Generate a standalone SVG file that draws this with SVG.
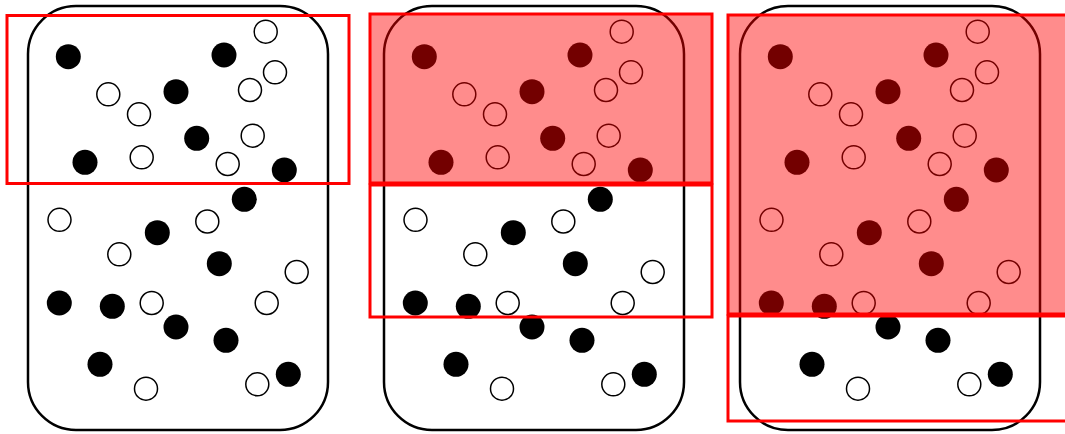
<svg xmlns="http://www.w3.org/2000/svg" xmlns:xlink="http://www.w3.org/1999/xlink" width="1065" height="434" viewBox="0 0 1065 434">
<style>
.box{fill:#fff;stroke:#000;stroke-width:2.5}
.f{fill:#000}
.o{fill:#fff;stroke:#000;stroke-width:1.5}
.sel{fill:none;stroke:#ff0000;stroke-width:3}
.self{fill:#ff0000;fill-opacity:0.45;stroke:#ff0000;stroke-width:3}
</style>
<defs>
<g id="dots">
<circle class="f" cx="68.3" cy="56.7" r="12.5"/>
<circle class="f" cx="224" cy="55" r="12.5"/>
<circle class="f" cx="176" cy="91.7" r="12.5"/>
<circle class="f" cx="196.7" cy="138.3" r="12.5"/>
<circle class="f" cx="85" cy="162.3" r="12.5"/>
<circle class="f" cx="284.3" cy="170" r="12.5"/>
<circle class="f" cx="244.3" cy="199.3" r="12.5"/>
<circle class="f" cx="157.3" cy="232.7" r="12.5"/>
<circle class="f" cx="219.3" cy="263.7" r="12.5"/>
<circle class="f" cx="59.3" cy="303" r="12.5"/>
<circle class="f" cx="112.3" cy="306.3" r="12.5"/>
<circle class="f" cx="176" cy="327" r="12.5"/>
<circle class="f" cx="226" cy="340.3" r="12.5"/>
<circle class="f" cx="100" cy="364.3" r="12.5"/>
<circle class="f" cx="288.3" cy="374.3" r="12.5"/>
<circle class="o" cx="265.7" cy="31.7" r="11.5"/>
<circle class="o" cx="275" cy="72.3" r="11.5"/>
<circle class="o" cx="250" cy="90" r="11.5"/>
<circle class="o" cx="108.3" cy="94.3" r="11.5"/>
<circle class="o" cx="139" cy="114.3" r="11.5"/>
<circle class="o" cx="252.7" cy="135.7" r="11.5"/>
<circle class="o" cx="141.7" cy="157.3" r="11.5"/>
<circle class="o" cx="227.7" cy="164" r="11.5"/>
<circle class="o" cx="59.5" cy="219.8" r="11.5"/>
<circle class="o" cx="207.3" cy="221.5" r="11.5"/>
<circle class="o" cx="119.3" cy="254.3" r="11.5"/>
<circle class="o" cx="296.7" cy="272" r="11.5"/>
<circle class="o" cx="151.7" cy="303" r="11.5"/>
<circle class="o" cx="266.7" cy="303" r="11.5"/>
<circle class="o" cx="146" cy="388.7" r="11.5"/>
<circle class="o" cx="257.3" cy="384.3" r="11.5"/>
</g>
</defs>
<g id="panel1">
<rect class="box" x="28" y="6" width="300" height="424" rx="48" ry="48"/>
<use xlink:href="#dots" href="#dots"/>
<rect class="sel" x="7" y="15.5" width="342" height="168"/>
</g>
<g id="panel2" transform="translate(356,0)">
<rect class="box" x="28" y="6" width="300" height="424" rx="48" ry="48"/>
<use xlink:href="#dots" href="#dots"/>
<rect class="self" x="14" y="14" width="342" height="169"/>
<rect class="sel" x="14" y="185" width="342" height="132"/>
</g>
<g id="panel3" transform="translate(712,0)">
<rect class="box" x="28" y="6" width="300" height="424" rx="48" ry="48"/>
<use xlink:href="#dots" href="#dots"/>
<rect class="self" x="16" y="15" width="342" height="299"/>
<rect class="sel" x="16" y="316" width="342" height="105"/>
</g>
<g id="connectors"/>
</svg>
